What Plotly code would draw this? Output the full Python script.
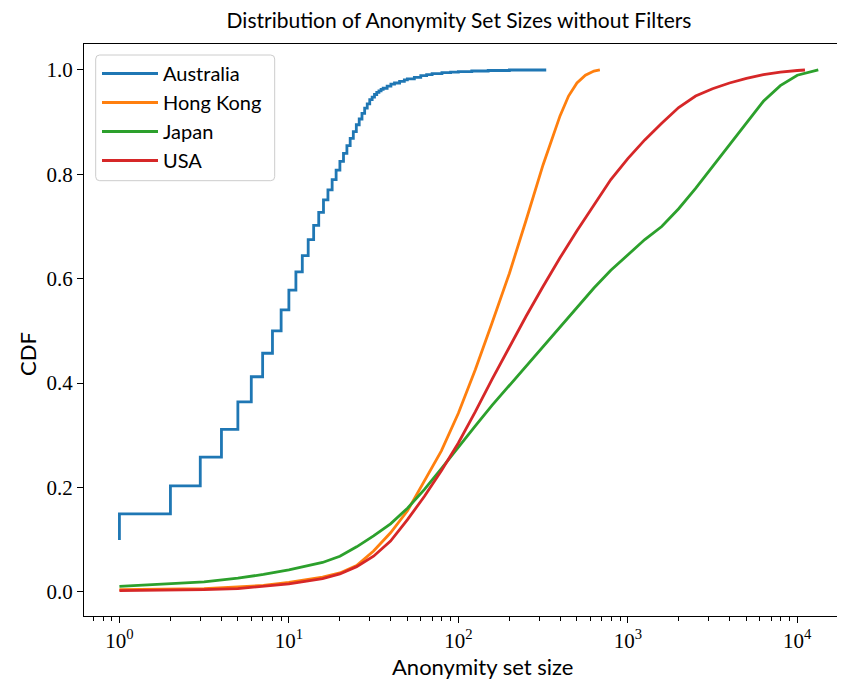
import plotly.graph_objects as go

# ---- data ----
series_names = ["Australia", "Hong Kong", "Japan", "USA"]
series_colors = ["#1f77b4", "#ff7f0e", "#2ca02c", "#d62728"]

aus_x = [1, 1, 2, 3, 4, 5, 6, 7, 8, 9, 10, 11, 12, 13, 14, 15, 16, 17, 18, 19, 20,
         21, 22, 23, 24, 25, 26, 27, 28, 29, 30, 31, 32, 33, 34, 35, 36, 38, 40,
         42, 45, 48, 50, 55, 60, 65, 70, 80, 90, 100, 120, 150, 200, 330]
aus_y = [0.099, 0.149, 0.203, 0.258, 0.311, 0.364, 0.412, 0.457, 0.500, 0.540, 0.578,
         0.613, 0.644, 0.675, 0.702, 0.727, 0.751, 0.770, 0.790, 0.808, 0.825,
         0.840, 0.855, 0.869, 0.882, 0.895, 0.906, 0.917, 0.927, 0.935, 0.943,
         0.948, 0.953, 0.957, 0.960, 0.963, 0.965, 0.969, 0.973,
         0.975, 0.978, 0.981, 0.983, 0.986, 0.989, 0.991, 0.993, 0.995, 0.996,
         0.997, 0.998, 0.999, 1.0, 1.0]

hk_x = [1, 2, 3.16, 5, 7.08, 10, 15.8, 20, 25.1, 31.6, 39.8, 50.1, 63.1, 79.4, 100,
        126, 158, 200, 251, 316, 398, 447, 501, 562, 631, 684]
hk_y = [0.004, 0.005, 0.006, 0.009, 0.012, 0.018, 0.028, 0.036, 0.050, 0.078, 0.113,
        0.155, 0.212, 0.270, 0.342, 0.426, 0.515, 0.610, 0.712, 0.818, 0.912, 0.950,
        0.975, 0.990, 0.998, 1.0]

jp_x = [1, 2, 3.16, 5, 7.08, 10, 15.8, 20, 25.1, 31.6, 39.8, 50.1, 63.1, 79.4, 100,
        126, 158, 200, 251, 316, 398, 501, 631, 794, 1000, 1259, 1585, 1995, 2512,
        3162, 3981, 5012, 6310, 7943, 10000, 13300]
jp_y = [0.010, 0.015, 0.019, 0.026, 0.033, 0.042, 0.056, 0.068, 0.086, 0.107, 0.130,
        0.160, 0.196, 0.236, 0.278, 0.318, 0.357, 0.395, 0.432, 0.469, 0.507, 0.545,
        0.582, 0.616, 0.646, 0.675, 0.700, 0.734, 0.773, 0.815, 0.858, 0.900, 0.940,
        0.970, 0.990, 1.0]

us_x = [1, 2, 3.16, 5, 7.08, 10, 15.8, 20, 25.1, 31.6, 39.8, 50.1, 63.1, 79.4, 100,
        126, 158, 200, 251, 316, 398, 501, 631, 794, 1000, 1259, 1585, 1995, 2512,
        3162, 3981, 5012, 6310, 7943, 10000, 11100]
us_y = [0.002, 0.003, 0.004, 0.006, 0.010, 0.015, 0.025, 0.034, 0.048, 0.068, 0.097,
        0.138, 0.183, 0.232, 0.285, 0.345, 0.407, 0.470, 0.528, 0.585, 0.640, 0.692,
        0.742, 0.790, 0.830, 0.866, 0.898, 0.928, 0.950, 0.964, 0.975, 0.984, 0.991,
        0.996, 0.999, 1.0]

x_tick_vals = [1, 10, 100, 1000, 10000]
x_tick_text = ["10<sup>0</sup>", "10<sup>1</sup>", "10<sup>2</sup>", "10<sup>3</sup>", "10<sup>4</sup>"]
y_tick_vals = [0.0, 0.2, 0.4, 0.6, 0.8, 1.0]
y_tick_text = ["0.0", "0.2", "0.4", "0.6", "0.8", "1.0"]

title_text = "Distribution of Anonymity Set Sizes without Filters"
x_label = "Anonymity set size"
y_label = "CDF"

SANS = "Lato, 'Open Sans', sans-serif"
SERIF = "'Liberation Serif', 'DejaVu Serif', serif"

fig = go.Figure()
all_x = [aus_x, hk_x, jp_x, us_x]
all_y = [aus_y, hk_y, jp_y, us_y]
shapes = ["hv", "linear", "linear", "linear"]
for i, name in enumerate(series_names):
    fig.add_trace(go.Scatter(x=all_x[i], y=all_y[i], mode="lines", name=name,
                             line=dict(color=series_colors[i], width=2.8, shape=shapes[i])))

# page has an 8px body margin: figure pixel = page pixel - 8
OFF = 8
W, H = 845 - OFF, 682 - OFF
L, R, T, B = 84 - OFF, 0, 44 - OFF, 682 - 616
PW, PH = W - L - R, H - T - B


def px_x(p):  # page pixel -> paper x
    return (p - OFF - L) / PW


def px_y(p):  # page pixel -> paper y
    return (H - B - (p - OFF)) / PH


# rounded legend frame (page pixels)
bx0, bx1, by0, by1, rad = 95.7, 274.7, 55.0, 180.7, 4.0
X0, X1 = px_x(bx0), px_x(bx1)
Y0, Y1 = px_y(by1), px_y(by0)
rx, ry = rad / PW, rad / PH
frame_path = (f"M{X0 + rx},{Y0} L{X1 - rx},{Y0} Q{X1},{Y0} {X1},{Y0 + ry} "
              f"L{X1},{Y1 - ry} Q{X1},{Y1} {X1 - rx},{Y1} L{X0 + rx},{Y1} "
              f"Q{X0},{Y1} {X0},{Y1 - ry} L{X0},{Y0 + ry} Q{X0},{Y0} {X0 + rx},{Y0} Z")

fig.update_layout(
    width=W, height=H,
    margin=dict(l=L, r=R, t=T, b=B, autoexpand=False),
    paper_bgcolor="white", plot_bgcolor="white",
    title=dict(text=title_text, x=(459 - OFF) / W, xref="container", xanchor="center",
               y=1 - (21 - OFF) / H, yref="container", yanchor="middle",
               font=dict(family=SANS, size=21, color="black")),
    showlegend=True,
    legend=dict(x=px_x(97), y=px_y(54),
                xanchor="left", yanchor="top",
                bgcolor="rgba(0,0,0,0)", borderwidth=0,
                font=dict(family=SANS, size=20, color="black"),
                tracegroupgap=0, itemwidth=56),
    shapes=[dict(type="path", path=frame_path, xref="paper", yref="paper",
                 fillcolor="rgba(255,255,255,0.8)", line=dict(color="#cccccc", width=1),
                 layer="above")],
    xaxis=dict(
        type="log", range=[-0.209, (845 - 119.7) / 169.4], automargin=False,
        tickmode="array", tickvals=x_tick_vals, ticktext=x_tick_text,
        ticks="outside", ticklen=6, tickwidth=1, tickcolor="black",
        showline=True, linecolor="black", linewidth=1.2, mirror=True,
        showgrid=False, zeroline=False,
        tickfont=dict(family=SERIF, size=21, color="black"),
        minor=dict(ticks="outside", ticklen=3.5, tickwidth=1, tickcolor="black",
                   dtick="D1", showgrid=False),
    ),
    yaxis=dict(
        range=[-0.0466, 1.0498], automargin=False,
        tickmode="array", tickvals=y_tick_vals, ticktext=y_tick_text,
        ticks="outside", ticklen=6, tickwidth=1, tickcolor="black",
        showline=True, linecolor="black", linewidth=1.2, mirror=False,
        showgrid=False, zeroline=False,
        tickfont=dict(family=SERIF, size=21, color="black"),
    ),
    annotations=[
        dict(text=x_label, xref="paper", yref="paper", x=px_x(483), y=px_y(666),
             xanchor="center", yanchor="middle", showarrow=False,
             font=dict(family=SANS, size=22, color="black")),
        dict(text=y_label, xref="paper", yref="paper", x=px_x(27), y=px_y(354),
             xanchor="center", yanchor="middle", showarrow=False, textangle=-90,
             font=dict(family=SANS, size=22, color="black")),
    ],
)

fig.write_html("out.html")
